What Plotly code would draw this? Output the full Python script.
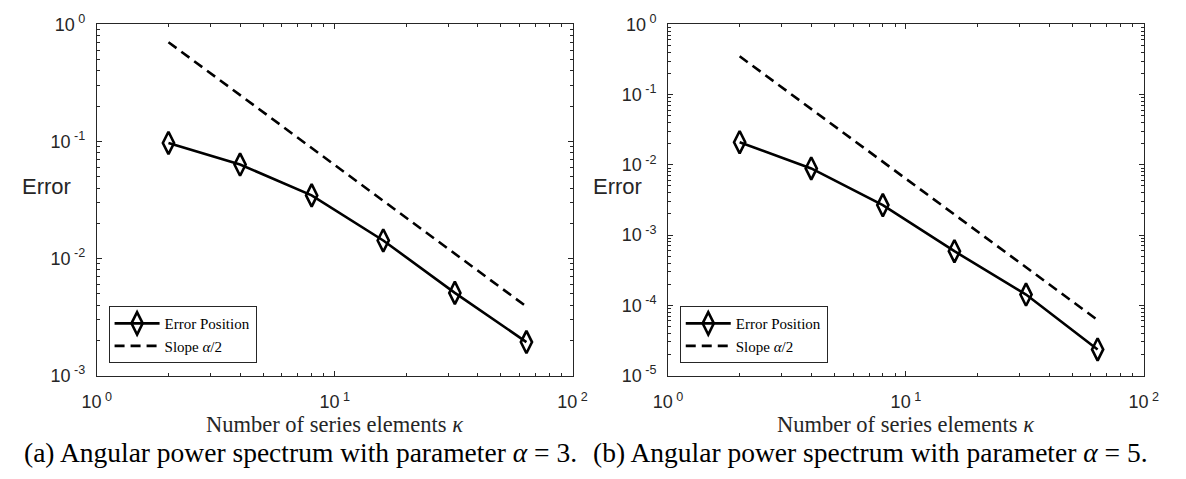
import plotly.graph_objects as go

# ---------------- data ----------------
kappa = [2, 4, 8, 16, 32, 64]
err_a = [0.097, 0.0635, 0.0346, 0.01425, 0.00508, 0.00193]
slope_x = [2, 64]
slope_a = [0.705, 0.00388]
err_b = [0.0210, 0.00889, 0.00267, 0.000589, 0.000142, 0.0000235]
slope_b = [0.352, 0.0000616]

x_tick_vals = [1, 10, 100]
x_tick_text = ["10<sup> 0</sup>", "10<sup> 1</sup>", "10<sup> 2</sup>"]
y_tick_vals_a = [1e-3, 1e-2, 1e-1, 1]
y_tick_text_a = ["10<sup> -3</sup>", "10<sup> -2</sup>", "10<sup> -1</sup>", "10<sup> 0</sup>"]
y_tick_vals_b = [1e-5, 1e-4, 1e-3, 1e-2, 1e-1, 1]
y_tick_text_b = ["10<sup> -5</sup>", "10<sup> -4</sup>", "10<sup> -3</sup>",
                 "10<sup> -2</sup>", "10<sup> -1</sup>", "10<sup> 0</sup>"]

legend_names = ["Error Position", "Slope <i>α</i>/2"]
y_label = "Error"
x_label = "Number of series elements <i>κ</i>"
captions = ["(a) Angular power spectrum with parameter <i>α</i> = 3.",
            "(b) Angular power spectrum with parameter <i>α</i> = 5."]

# ---------------- style ----------------
W, H = 1186, 479
AX = "#262626"
SANS = "Liberation Sans, Arial, sans-serif"
SERIF = "Liberation Serif, Times New Roman, serif"

def minor_vals(lo, hi):
    vals = []
    for e in range(lo, hi):
        for m in range(2, 10):
            vals.append(m * 10 ** e)
    return vals

fig = go.Figure()

def add_panel(err, slope, xa, ya, leg):
    fig.add_trace(go.Scatter(
        x=kappa, y=err, mode="lines+markers", name=legend_names[0],
        xaxis=xa, yaxis=ya, legend=leg,
        line=dict(color="black", width=2.6),
        marker=dict(symbol="diamond-tall-open", size=16, color="black",
                    line=dict(width=2.6, color="black")),
    ))
    fig.add_trace(go.Scatter(
        x=slope_x, y=slope, mode="lines", name=legend_names[1],
        xaxis=xa, yaxis=ya, legend=leg,
        line=dict(color="black", width=2.6, dash="10px,6px"),
    ))

add_panel(err_a, slope_a, "x", "y", "legend")
add_panel(err_b, slope_b, "x2", "y2", "legend2")

def xaxis_cfg(domain, anchor):
    return dict(
        type="log", domain=domain, anchor=anchor, range=[0, 2],
        showline=True, linecolor=AX, linewidth=1, mirror="allticks",
        ticks="inside", ticklen=5, tickwidth=1, tickcolor=AX,
        tickvals=x_tick_vals, ticktext=x_tick_text,
        tickfont=dict(family=SANS, size=18, color=AX),
        ticklabelstandoff=10,
        minor=dict(ticks="inside", ticklen=3, tickwidth=1, tickcolor=AX,
                   tickvals=minor_vals(0, 2), showgrid=False),
        showgrid=False, zeroline=False,
    )

def yaxis_cfg(domain, anchor, lo, tv, tt):
    return dict(
        type="log", domain=domain, anchor=anchor, range=[lo, 0],
        showline=True, linecolor=AX, linewidth=1, mirror="allticks",
        ticks="inside", ticklen=5, tickwidth=1, tickcolor=AX,
        tickvals=tv, ticktext=tt,
        tickfont=dict(family=SANS, size=18, color=AX),
        ticklabelstandoff=7,
        minor=dict(ticks="inside", ticklen=3, tickwidth=1, tickcolor=AX,
                   tickvals=minor_vals(lo, 0), showgrid=False),
        showgrid=False, zeroline=False,
    )

ydom = [1 - 381 / H, 1 - 13 / H]
xdom_a = [84 / W, 572 / W]
xdom_b = [670 / W, 1158 / W]

legend_style = dict(
    bgcolor="white", bordercolor=AX, borderwidth=1,
    font=dict(family=SERIF, size=15, color="black"),
    xanchor="left", yanchor="bottom", tracegroupgap=0,
    itemwidth=45,
)

annotations = []
for cx in (32.5, 618.5):
    annotations.append(dict(
        text=y_label, x=cx / W, y=1 - 183 / H, xref="paper", yref="paper",
        showarrow=False, xanchor="center", yanchor="middle",
        font=dict(family=SANS, size=22, color=AX)))
for cx in (328, 914):
    annotations.append(dict(
        text=x_label, x=cx / W, y=1 - 432 / H, xref="paper", yref="paper",
        showarrow=False, xanchor="center", yanchor="middle",
        font=dict(family=SERIF, size=22.5, color=AX)))
for cx, cap in zip((293, 878), captions):
    annotations.append(dict(
        text=cap, x=cx / W, y=1 - 462 / H, xref="paper", yref="paper",
        showarrow=False, xanchor="center", yanchor="middle",
        font=dict(family=SERIF, size=27.5, color="black")))

fig.update_layout(
    width=W, height=H,
    margin=dict(l=0, r=0, t=0, b=0),
    paper_bgcolor="white", plot_bgcolor="white",
    xaxis=xaxis_cfg(xdom_a, "y"),
    yaxis=yaxis_cfg(ydom, "x", -3, y_tick_vals_a, y_tick_text_a),
    xaxis2=xaxis_cfg(xdom_b, "y2"),
    yaxis2=yaxis_cfg(ydom, "x2", -5, y_tick_vals_b, y_tick_text_b),
    legend=dict(x=96 / W, y=1 - 368 / H, **legend_style),
    legend2=dict(x=682 / W, y=1 - 368 / H, **legend_style),
    annotations=annotations,
    showlegend=True,
)

fig.write_html("out.html", config={"displayModeBar": False},
               post_script="document.body.style.margin='0';document.body.style.overflow='hidden';")
